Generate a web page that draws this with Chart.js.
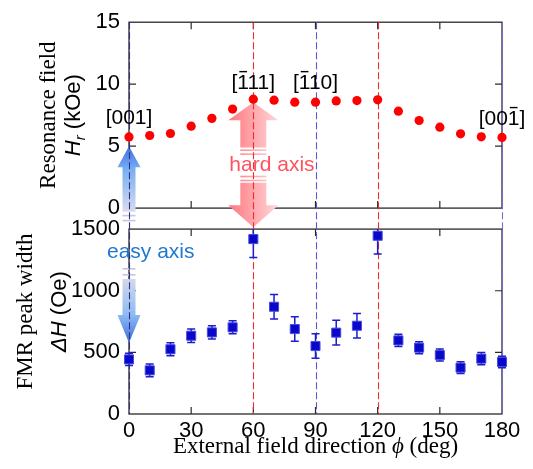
<!DOCTYPE html>
<html>
<head>
<meta charset="utf-8">
<script src="https://cdn.jsdelivr.net/npm/chart.js@4.4.1/dist/chart.umd.min.js"></script>
<style>
    body { margin: 0; background: #fff; }
</style>
</head>
<body>
<canvas id="fmrChart" width="533" height="469"></canvas>
<script>

// external field direction (deg)
const angles = [0, 10, 20, 30, 40, 50, 60, 70, 80, 90, 100, 110, 120, 130, 140, 150, 160, 170, 180];
// resonance field Hr (kOe)
const resField = [5.74, 5.86, 6.02, 6.61, 7.24, 7.99, 8.79, 8.71, 8.55, 8.55, 8.65, 8.68, 8.74, 7.82, 7.07, 6.53, 5.99, 5.75, 5.70];
// FMR peak width dH (Oe) and its error
const peakWidth = [443, 354, 525, 635, 662, 703, 1419, 870, 689, 551, 660, 716, 1446, 597, 538, 478, 376, 449, 422];
const peakErr = [49, 52, 53, 55, 53, 53, 150, 100, 99, 99, 101, 100, 148, 50, 49, 49, 47, 50, 47];

const xTicks = [0, 30, 60, 90, 120, 150, 180];
const topTicks = [0, 5, 10, 15];
const bottomTicks = [0, 500, 1000, 1500];

// dashed guides through both panels
const guideAngles = [0, 60, 90, 120, 180];
const guideColors = ['#30307e', '#f02a30', '#5a5ad0', '#f02a30', '#7070d8'];

// crystal directions over the top panel (bar = index of the digit with an overbar)
const dirLabels = ['[001]', '[111]', '[110]', '[001]'];
const dirBars = [-1, 1, 1, 3];
const dirAngles = [0, 60, 90, 180];
const dirHeights = [6.8, 9.6, 9.6, 6.7];

const SANS = "'Liberation Sans', Arial, sans-serif";
const SERIF = "'Liberation Serif', 'Times New Roman', serif";
const frameColor = '#2a2a2a';


function drawRich(ctx, parts, x, y, angle) {
    ctx.save();
    ctx.translate(x, y);
    ctx.rotate(angle);
    ctx.textAlign = 'left';
    ctx.textBaseline = 'alphabetic';
    let total = 0;
    for (const p of parts) {
        ctx.font = p.font;
        p.w = ctx.measureText(p.text).width;
        total += p.w;
    }
    let pos = -total / 2;
    for (const p of parts) {
        ctx.font = p.font;
        ctx.fillStyle = p.color || '#000';
        ctx.fillText(p.text, pos, p.dy || 0);
        pos += p.w;
    }
    ctx.restore();
}

function arrowPiece(ctx, cx, tipY, baseY, endY, headW, shaftW, fill) {
    ctx.beginPath();
    ctx.moveTo(cx, tipY);
    ctx.lineTo(cx + headW / 2, baseY);
    ctx.lineTo(cx + shaftW / 2, baseY);
    ctx.lineTo(cx + shaftW / 2, endY);
    ctx.lineTo(cx - shaftW / 2, endY);
    ctx.lineTo(cx - shaftW / 2, baseY);
    ctx.lineTo(cx - headW / 2, baseY);
    ctx.closePath();
    ctx.fillStyle = fill;
    ctx.fill();
}

function stripes(ctx, cx, w, ys, color) {
    ctx.fillStyle = color;
    for (const y of ys) {
        ctx.fillRect(cx - w / 2, y, w, 1.6);
    }
}

// frames, inward ticks, arrows, guides, labels and error bars
const decorPlugin = {
    id: 'decor',
    beforeDatasetsDraw(chart) {
        const ctx = chart.ctx;
        const ca = chart.chartArea;
        const xs = chart.scales.x;
        const yt = chart.scales.yTop;
        const yb = chart.scales.yBot;

        ctx.save();

        // panel frames
        ctx.strokeStyle = frameColor;
        ctx.lineWidth = 1.3;
        for (const p of [yt, yb]) {
            ctx.strokeRect(ca.left, p.top, ca.right - ca.left, p.bottom - p.top);
        }

        // tick marks pointing in
        ctx.lineWidth = 1.2;
        ctx.beginPath();
        for (const v of xTicks.slice(1, -1)) {
            const px = xs.getPixelForValue(v);
            for (const p of [yt, yb]) {
                ctx.moveTo(px, p.top); ctx.lineTo(px, p.top + 7);
                ctx.moveTo(px, p.bottom); ctx.lineTo(px, p.bottom - 7);
            }
        }
        const inner = [[yt, topTicks], [yb, bottomTicks]];
        for (const [sc, tks] of inner) {
            for (const v of tks.slice(1, -1)) {
                const py = sc.getPixelForValue(v);
                ctx.moveTo(ca.left, py); ctx.lineTo(ca.left + 7, py);
                ctx.moveTo(ca.right, py); ctx.lineTo(ca.right - 7, py);
            }
        }
        ctx.stroke();

        // hard axis arrow (pink)
        let cx = xs.getPixelForValue(60);
        let tipUp = yt.getPixelForValue(8.55);
        let endUp = yt.getPixelForValue(4.9);
        let startDown = yt.getPixelForValue(2.05);
        let tipDown = yb.getPixelForValue(1515);
        let grad = ctx.createLinearGradient(cx - 25, 0, cx + 25, 0);
        grad.addColorStop(0, '#ff767e');
        grad.addColorStop(1, '#ffd8da');
        arrowPiece(ctx, cx, tipUp, tipUp + 18, endUp, 50, 26, grad);
        arrowPiece(ctx, cx, tipDown, tipDown - 22, startDown, 50, 26, grad);
        stripes(ctx, cx, 26, [endUp + 2, endUp + 6, startDown - 7, startDown - 3], grad);
        ctx.font = '21px ' + SANS;
        ctx.fillStyle = '#ff525e';
        ctx.textAlign = 'left';
        ctx.textBaseline = 'middle';
        ctx.fillText('hard axis', cx - 24, yt.getPixelForValue(3.45));

        // easy axis arrow (blue)
        cx = xs.getPixelForValue(0);
        tipUp = yt.getPixelForValue(5);
        endUp = yt.getPixelForValue(-0.3);
        startDown = yb.getPixelForValue(1095);
        tipDown = yb.getPixelForValue(575);
        grad = ctx.createLinearGradient(0, tipUp, 0, endUp);
        grad.addColorStop(0, '#3f6ee0');
        grad.addColorStop(0.35, '#78aef5');
        grad.addColorStop(1, '#d8dcee');
        arrowPiece(ctx, cx, tipUp, tipUp + 21, endUp, 23, 13, grad);
        grad = ctx.createLinearGradient(0, startDown, 0, tipDown);
        grad.addColorStop(0, '#d2d8ec');
        grad.addColorStop(0.55, '#8ebcf4');
        grad.addColorStop(1, '#3c6ce0');
        arrowPiece(ctx, cx, tipDown, tipDown - 28, startDown, 23, 13, grad);
        stripes(ctx, cx, 13, [endUp + 3, endUp + 8, startDown - 11, startDown - 5], '#c8c4e6');
        ctx.fillStyle = '#1f78d0';
        ctx.fillText('easy axis', cx - 22, yb.getPixelForValue(1315));

        // dashed guides
        ctx.lineWidth = 1.1;
        ctx.setLineDash([7, 3]);
        guideAngles.forEach(function(a, i) {
            const px = Math.round(xs.getPixelForValue(a)) + 0.5;
            ctx.strokeStyle = guideColors[i];
            ctx.beginPath();
            ctx.moveTo(px, yt.top);
            ctx.lineTo(px, yb.bottom);
            ctx.stroke();
        });
        ctx.setLineDash([]);

        // crystal direction labels
        ctx.font = '21px ' + SANS;
        ctx.fillStyle = '#000';
        ctx.strokeStyle = '#000';
        ctx.textAlign = 'left';
        ctx.textBaseline = 'alphabetic';
        ctx.lineWidth = 1.4;
        dirLabels.forEach(function(txt, i) {
            const w = ctx.measureText(txt).width;
            const x0 = xs.getPixelForValue(dirAngles[i]) - w / 2;
            const base = yt.getPixelForValue(dirHeights[i]);
            ctx.fillText(txt, x0, base);
            const b = dirBars[i];
            if (b >= 0) {
                const bx = x0 + ctx.measureText(txt.slice(0, b)).width;
                const bw = ctx.measureText(txt[b]).width;
                ctx.beginPath();
                ctx.moveTo(bx + 2, base - 17.5);
                ctx.lineTo(bx + bw - 2, base - 17.5);
                ctx.stroke();
            }
        });

        // error bars of the peak width
        ctx.save();
        ctx.beginPath();
        ctx.rect(ca.left - 10, yb.top, ca.right - ca.left + 20, yb.bottom - yb.top);
        ctx.clip();
        ctx.strokeStyle = '#1c1cd0';
        ctx.lineWidth = 1.5;
        ctx.beginPath();
        angles.forEach(function(a, i) {
            const px = xs.getPixelForValue(a);
            const hi = yb.getPixelForValue(peakWidth[i] + peakErr[i]);
            const lo = yb.getPixelForValue(peakWidth[i] - peakErr[i]);
            ctx.moveTo(px, hi); ctx.lineTo(px, lo);
            ctx.moveTo(px - 4, hi); ctx.lineTo(px + 4, hi);
            ctx.moveTo(px - 4, lo); ctx.lineTo(px + 4, lo);
        });
        ctx.stroke();
        ctx.restore();

        // axis titles
        const midTop = (yt.top + yt.bottom) / 2;
        const midBot = (yb.top + yb.bottom) / 2 - 10;
        const up = -Math.PI / 2;
        drawRich(ctx, [{text: 'Resonance field', font: '23px ' + SERIF}], 55, midTop, up);
        drawRich(ctx, [
            {text: 'H', font: 'italic 22px ' + SANS},
            {text: 'r', font: 'italic 15px ' + SANS, dy: 5},
            {text: ' (kOe)', font: '22px ' + SANS}
        ], 80, midTop, up);
        drawRich(ctx, [{text: 'FMR peak width', font: '23px ' + SERIF}], 32, midBot, up);
        drawRich(ctx, [
            {text: '\u0394H', font: 'italic 22px ' + SANS},
            {text: ' (Oe)', font: '22px ' + SANS}
        ], 66, midBot, up);
        drawRich(ctx, [
            {text: 'External field direction ', font: '23px ' + SERIF},
            {text: '\u03d5', font: 'italic 23px ' + SERIF},
            {text: ' (deg)', font: '23px ' + SERIF}
        ], (ca.left + ca.right) / 2, 453, 0);

        ctx.restore();
    }
};

const tickFont = {family: SANS, size: 22};
const plainLabel = v => String(v);

new Chart(document.getElementById('fmrChart'), {
    type: 'scatter',
    data: {
        datasets: [{
            label: 'Hr',
            data: angles.map((a, i) => ({x: a, y: resField[i]})),
            yAxisID: 'yTop',
            pointStyle: 'circle',
            pointRadius: 4.6,
            pointBackgroundColor: '#ff0000',
            pointBorderWidth: 0,
            clip: false
        }, {
            label: 'dH',
            data: angles.map((a, i) => ({x: a, y: peakWidth[i]})),
            yAxisID: 'yBot',
            pointStyle: 'rect',
            pointRadius: 6.4,
            pointBackgroundColor: '#0808c8',
            pointBorderColor: '#4a4ae0',
            pointBorderWidth: 1,
            clip: false
        }]
    },
    options: {
        responsive: false,
        animation: false,
        events: [],
        layout: {padding: {top: 22, right: 31, bottom: 0, left: 0}},
        plugins: {legend: {display: false}, tooltip: {enabled: false}},
        scales: {
            x: {
                type: 'linear', min: 0, max: 180,
                grid: {display: false, drawTicks: false},
                border: {display: false},
                ticks: {font: tickFont, color: '#000', padding: 4, callback: plainLabel},
                afterBuildTicks: s => { s.ticks = xTicks.map(v => ({value: v})); },
                afterFit: s => { s.height = 55; }
            },
            yBot: {
                type: 'linear', position: 'left', stack: 'panels', stackWeight: 185, weight: 1,
                min: 0, max: 1500,
                grid: {display: false, drawTicks: false},
                border: {display: false},
                ticks: {font: tickFont, color: '#000', padding: 9, callback: plainLabel},
                afterBuildTicks: s => { s.ticks = bottomTicks.map(v => ({value: v})); },
                afterFit: s => { s.width = 129; }
            },
            yGap: {
                type: 'linear', position: 'left', stack: 'panels', stackWeight: 21, weight: 2,
                grid: {display: false, drawTicks: false},
                border: {display: false},
                ticks: {display: false},
                afterFit: s => { s.width = 129; }
            },
            yTop: {
                type: 'linear', position: 'left', stack: 'panels', stackWeight: 186, weight: 3,
                min: 0, max: 15,
                grid: {display: false, drawTicks: false},
                border: {display: false},
                ticks: {font: tickFont, color: '#000', padding: 9, callback: plainLabel},
                afterBuildTicks: s => { s.ticks = topTicks.map(v => ({value: v})); },
                afterFit: s => { s.width = 129; }
            }
        }
    },
    plugins: [decorPlugin]
});
</script>
</body>
</html>
